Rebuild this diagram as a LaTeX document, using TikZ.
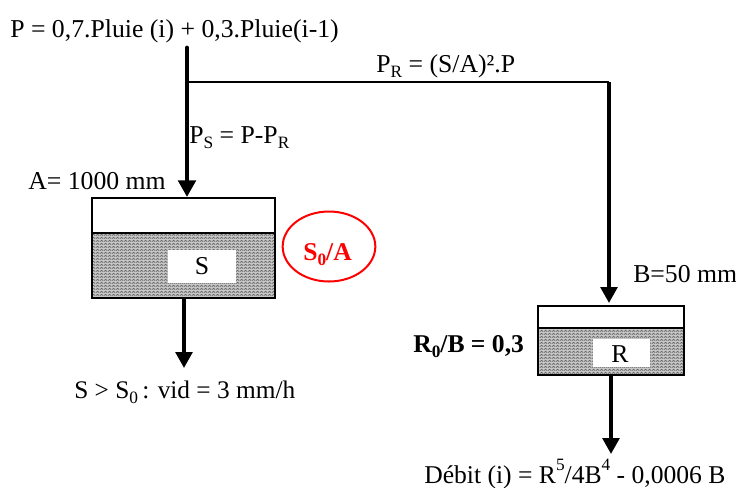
\documentclass[tikz,border=0pt]{standalone}
\usepackage{fontspec}
\setmainfont{Liberation Serif}
\usetikzlibrary{patterns,arrows.meta,shapes.geometric}
\pgfdeclarepatternformonly{weave}{\pgfqpoint{0pt}{0pt}}{\pgfqpoint{3pt}{2.25pt}}{\pgfqpoint{3pt}{2.25pt}}{%
  \pgfsetlinewidth{0.7pt}
  \pgfpathmoveto{\pgfqpoint{0pt}{0.4pt}}
  \pgfpathlineto{\pgfqpoint{1.5pt}{1.6pt}}
  \pgfpathlineto{\pgfqpoint{3pt}{0.4pt}}
  \pgfusepath{stroke}
}
\newcommand{\sbs}[1]{\raisebox{-0.22em}{\fontsize{13pt}{13pt}\selectfont #1}}
\newcommand{\sps}[1]{\raisebox{0.5em}{\fontsize{13pt}{13pt}\selectfont #1}}
\tikzset{
  x=0.75pt,y=-0.75pt,
  lab/.style={inner sep=0pt,font=\fontsize{19.3pt}{21pt}\selectfont,text=black},
  boldlab/.style={inner sep=0pt,font=\fontsize{19.2pt}{21pt}\selectfont\bfseries},
  tank/.style={draw=black,line width=1.5pt,inner sep=0pt,outer sep=0pt,anchor=north west},
  water/.style={tank,preaction={fill=black!22},pattern=weave,pattern color=black!60},
  hole/.style={fill=white,inner sep=0pt,outer sep=0pt,anchor=north west},
  thickarrow/.style={line width=3.7pt,-{Triangle[length=12.5pt,width=13pt]}},
  medarrow/.style={line width=2.8pt,-{Triangle[length=12pt,width=12.5pt]}},
  thin line/.style={line width=1.6pt},
}
\begin{document}
\begin{tikzpicture}
\useasboundingbox (0,0) rectangle (736,487);
% tanks
\node[tank,minimum width=137.25pt,minimum height=26.25pt] (stop) at (92,198) {};
\node[water,minimum width=137.25pt,minimum height=48.75pt] (swater) at (92,233) {};
\node[hole,minimum width=51pt,minimum height=24.75pt] (shole) at (168,250) {};
\node[tank,minimum width=109.5pt,minimum height=16.5pt] (rtop) at (538,306) {};
\node[water,minimum width=109.5pt,minimum height=35.25pt] (rwater) at (538,328) {};
\node[hole,minimum width=42.75pt,minimum height=21pt] (rhole) at (593,339) {};
\node[lab] (slab) at (202,266) {S};
\node[lab] (rlab) at (620,354) {R};
% ellipse
\node[ellipse,draw=red,line width=1.5pt,minimum width=69.5pt,minimum height=52.5pt,inner sep=0pt] (so) at (329,246.5) {};
\node[boldlab,anchor=base west,text=red] (solab) at (303,260) {S\sbs{0}/A};
% texts
\node[lab,anchor=base west] (ptext) at (10,37) {P = 0,7.Pluie (i) + 0,3.Pluie(i-1)};
\node[lab,anchor=base west] (pr) at (376,72) {P\sbs{R} = (S/A)².P};
\node[lab,anchor=base west] (ps) at (189,143) {P\sbs{S} = P-P\sbs{R}};
\node[lab,anchor=base west] (alab) at (28,189) {A= 1000 mm};
\node[lab,anchor=base west] (blab) at (633,282) {B=50 mm};
\node[boldlab,anchor=base west] (rb) at (413,352) {R\sbs{0}/B = 0,3};
\node[lab,anchor=base west,font=\fontsize{19pt}{21pt}\selectfont] (vid) at (74,398) {S > S\sbs{0}\,: vid = 3 mm/h};
\node[lab,anchor=base west,font=\fontsize{19.2pt}{21pt}\selectfont] (deb) at (424,483) {Débit (i) = R\sps{5}/4B\sps{4} - 0,0006 B};
% connectors
\coordinate (pstart) at (187,48);
\coordinate (branch) at (187,82);
\coordinate (corner) at (609,82);
\coordinate (sin) at (187,197);
\coordinate (rin) at (609,303);
\coordinate (sout) at (184,298);
\coordinate (send) at (184,368);
\coordinate (rout) at (611,375);
\coordinate (rend) at (611,454);
\draw[thickarrow,line cap=round] (pstart) -- (sin);
\draw[thin line] (branch) -- (corner);
\draw[medarrow] (corner) -- (rin);
\draw[medarrow] (sout) -- (send);
\draw[medarrow] (rout) -- (rend);
\end{tikzpicture}
\end{document}
